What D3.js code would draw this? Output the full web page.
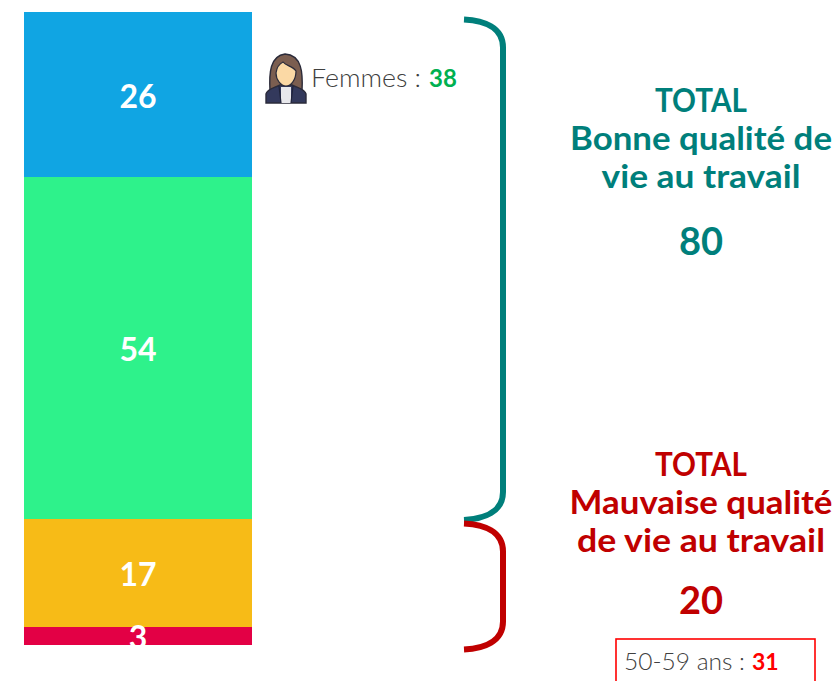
<!DOCTYPE html>
<html><head><meta charset="utf-8">
<script src="https://cdn.jsdelivr.net/npm/d3@7"></script>
<style>html,body{margin:0;padding:0;background:#fff;overflow:hidden}svg{display:block}text{font-family:Lato,"Open Sans",sans-serif}</style>
</head><body><svg id="c" width="838" height="681"></svg>
<script>
const categories = ["Très bonne","Plutôt bonne","Plutôt mauvaise","Très mauvaise"];
const values = [26,54,17,3];
const colors = ["#10A5E3","#2EF28B","#F7BB17","#E30045"];
const groupTitles = [["TOTAL","Bonne qualité de","vie au travail"],["TOTAL","Mauvaise qualité","de vie au travail"]];
const groupTotals = [80,20];
const groupColors = ["#007F7B","#C00000"];

const svg = d3.select("#c");
const y = d3.scaleLinear().domain([0,100]).range([12.49,645.49]);
const x = d3.scaleBand().domain(["all"]).range([24,252]);
let cum = 0;
const stack = values.map((v,i)=>{const s={v,i,y0:cum,y1:cum+v};cum+=v;return s;});

svg.selectAll("rect.bar").data(stack).join("rect").attr("class","bar")
  .attr("x",x("all")).attr("width",x.bandwidth())
  .attr("y",d=>Math.round(y(d.y0))).attr("height",d=>Math.round(y(d.y1))-Math.round(y(d.y0)))
  .attr("fill",d=>colors[d.i]);

svg.append("clipPath").attr("id","barclip").append("rect").attr("x",0).attr("y",0).attr("width",838).attr("height",Math.round(y(100)));
svg.selectAll("text.val").data(stack).join("text").attr("class","val")
  .attr("x",138).attr("y",d=>(y(d.y0)+y(d.y1))/2+13+(d.i===3?0:0))
  .attr("text-anchor","middle").attr("fill","#fff")
  .attr("font-size",32).attr("font-weight",700)
  .attr("clip-path","url(#barclip)").text(d=>d.v);

// braces
function brace(top,bottom,col){
  const xl=464,xr=503,r=28;
  const p=d3.path();
  p.moveTo(xl,top);
  p.bezierCurveTo(xl+20,top+1,xr,top+8,xr,top+r);
  p.lineTo(xr,bottom-r);
  p.bezierCurveTo(xr,bottom-8,xl+20,bottom-1,xl,bottom);
  svg.append("path").attr("d",p.toString()).attr("fill","none").attr("stroke",col).attr("stroke-width",6);
}
brace(y(0)+7,y(80)+1,groupColors[0]);
brace(y(80)+4.5,y(100)+4,groupColors[1]);

// group titles
const titleY=[[112,150,188],[476,514,552]];
const titleW=[[92,262,199],[92,263,248]];
const totalY=[255,614];
groupTitles.forEach((lines,g)=>{
  lines.forEach((t,i)=>svg.append("text").attr("x",701).attr("y",titleY[g][i])
    .attr("text-anchor","middle").attr("fill",groupColors[g]).attr("font-size",33).attr("font-weight",700)
    .attr("textLength",titleW[g][i]).attr("lengthAdjust","spacingAndGlyphs").text(t));
  svg.append("text").attr("x",701).attr("y",totalY[g]).attr("text-anchor","middle")
    .attr("fill",groupColors[g]).attr("font-size",38).attr("font-weight",700).text(groupTotals[g]);
});

// avatar icon
const a=svg.append("g").attr("transform","translate(266,53)");
a.append("path").attr("d","M4 38C3 20 4 3 19 1C36 2 37 20 36 38Z").attr("fill","#7B5E50").attr("stroke","#2B2B3A").attr("stroke-width",1.4);
a.append("path").attr("d","M0 50V41C1 36 8 35 14 32H26C32 35 39 36 40 41V50Z").attr("fill","#33395C").attr("stroke","#2B2B3A").attr("stroke-width",1.4);
a.append("path").attr("d","M15 34H25V50H15Z").attr("fill","#E8E8EC");
a.append("path").attr("d","M10 20C11 12 15 10 17 9C20 13 27 13 30 18C30 27 25 33 20 33C15 33 10 27 10 20Z").attr("fill","#FBD9A5").attr("stroke","#2B2B3A").attr("stroke-width",1.2);
a.append("path").attr("d","M13 33L15 50M27 33L25 50").attr("stroke","#20233A").attr("stroke-width",1.2).attr("fill","none");

function keyed(x0,yy,label,labelW,valX,val,col,size){
  svg.append("text").attr("x",x0).attr("y",yy).attr("font-size",size).attr("fill","#404040").attr("font-weight",300)
    .attr("textLength",labelW).attr("lengthAdjust","spacingAndGlyphs").text(label+" :");
  svg.append("text").attr("x",valX).attr("y",yy).attr("font-size",size-1).attr("font-weight",700).attr("fill",col).text(val);
}
keyed(311,87,"Femmes",110,429,"38","#00B050",25);

svg.append("rect").attr("x",616).attr("y",639).attr("width",199).attr("height",60).attr("fill","#fff").attr("stroke","#FF0000").attr("stroke-width",1.6);
keyed(624,670,"50-59 ans",121,752,"31","#FF0000",24);
</script></body></html>
